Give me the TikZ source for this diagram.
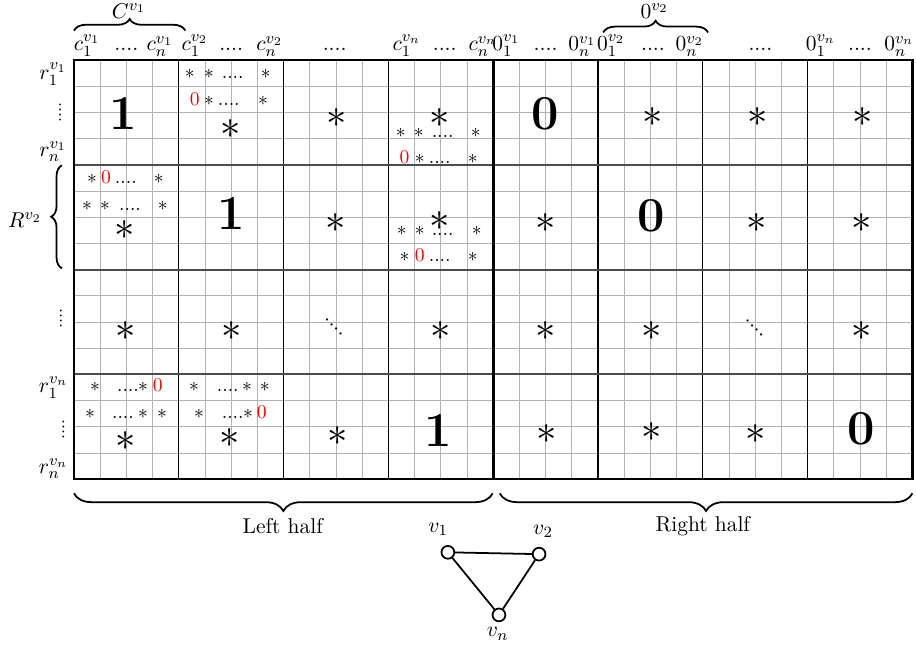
\documentclass[tikz,border=0pt]{standalone}
\usepackage{amsmath,amssymb}
\usepackage{xcolor}
\usepackage{tikz}
\usetikzlibrary{positioning, calc, decorations.pathreplacing}

\begin{document}
\begin{tikzpicture}[
    x=0.47cm, y=0.47cm,
    cellGrid/.style={draw=black!30, line width=0.5pt, step=0.47cm},
    blockLine/.style={draw=black, line width=0.6pt},
    bandLine/.style={draw=black!70, line width=1pt},
    halfLine/.style={draw=black, line width=1.6pt},
    outerBox/.style={draw=black, line width=1.3pt},
    labelFont/.style={font=\fontsize{10.95}{13.6}\selectfont},
    colLabel/.style={labelFont, anchor=base, inner sep=0pt},
    rowLabel/.style={labelFont, inner sep=0pt},
    bigOne/.style={font=\Huge\bfseries, inner sep=0pt},
    bigStar/.style={font=\huge, inner sep=0pt},
    bigDots/.style={font=\large, inner sep=0pt, rotate=-45},
    sideDots/.style={font=\small, inner sep=0pt, rotate=90},
    smallEntry/.style={anchor=base, inner sep=0pt},
    redZero/.style={anchor=base, inner sep=0pt, text=red},
    braceLine/.style={decorate, decoration={brace, amplitude=#1}, line width=0.9pt},
    braceLine/.default=6pt,
    vertexDot/.style={circle, draw, line width=0.9pt, minimum size=0.23cm, inner sep=0pt},
    graphEdge/.style={draw, line width=0.9pt}
]
\useasboundingbox (-2.824,-6.336) rectangle (32.137,18.29);

% Grid
\draw[cellGrid] (0,0) grid (32,16);
\foreach \x in {4,8,12,20,24,28} \draw[blockLine] (\x,0) -- (\x,16);
\foreach \y in {4,8,12} \draw[bandLine] (0,\y) -- (32,\y);
\draw[halfLine] (16,0) -- (16,16);
\draw[outerBox] (0,0) rectangle (32,16);

% Column labels
\node[colLabel] (c11) at (0.5,16.35) {$c_1^{v_1}$};
\node[colLabel] (cd1) at (2,16.35) {$....$};
\node[colLabel] (cn1) at (3.28,16.35) {$c_n^{v_1}$};
\node[colLabel] (c12) at (4.61,16.35) {$c_1^{v_2}$};
\node[colLabel] (cd2) at (6,16.35) {$....$};
\node[colLabel] (cn2) at (7.47,16.35) {$c_n^{v_2}$};
\node[colLabel] (cd3) at (9.95,16.35) {$....$};
\node[colLabel] (c1n) at (12.7,16.35) {$c_1^{v_n}$};
\node[colLabel] (cdn) at (14.15,16.35) {$....$};
\node[colLabel] (cnn) at (15.6,16.35) {$c_n^{v_n}$};
\node[colLabel] (z11) at (16.5,16.35) {$0_1^{v_1}$};
\node[colLabel] (zd1) at (18,16.35) {$....$};
\node[colLabel] (zn1) at (19.4,16.35) {$0_n^{v_1}$};
\node[colLabel] (z12) at (20.5,16.35) {$0_1^{v_2}$};
\node[colLabel] (zd2) at (22.1,16.35) {$....$};
\node[colLabel] (zn2) at (23.5,16.35) {$0_n^{v_2}$};
\node[colLabel] (zd3) at (26.2,16.35) {$....$};
\node[colLabel] (z1n) at (28.5,16.35) {$0_1^{v_n}$};
\node[colLabel] (zdn) at (30,16.35) {$....$};
\node[colLabel] (znn) at (31.5,16.35) {$0_n^{v_n}$};

% Top braces
\draw[braceLine=6pt] (0,17.12) -- (4.25,17.12);
\node[labelFont] (Cv1) at (2.1,17.88) {$C^{v_1}$};
\draw[braceLine=6pt] (20.2,17.05) -- (24.2,17.05);
\node[labelFont] (Zv2) at (22.16,17.88) {$0^{v_2}$};

% Row labels
\node[rowLabel] (r11) at (-0.8,15.45) {$r_1^{v_1}$};
\node[sideDots] (rd1) at (-0.53,14) {$....$};
\node[rowLabel] (rn1) at (-0.8,12.5) {$r_n^{v_1}$};
\draw[braceLine=5.5pt] (-0.46,8.05) -- (-0.46,11.98);
\node[labelFont] (Rv2) at (-1.87,9.88) {$R^{v_2}$};
\node[sideDots] (rd2) at (-0.5,6.15) {$....$};
\node[rowLabel] (r1n) at (-0.78,3.5) {$r_1^{v_n}$};
\node[sideDots] (rdn) at (-0.4,1.9) {$....$};
\node[rowLabel] (rnn) at (-0.78,0.4) {$r_n^{v_n}$};

% Block row 1
\node[bigOne] (b11) at (1.87,13.96) {1};
\node[bigStar] (b12) at (5.99,13.38) {$*$};
\node[bigStar] (b13) at (10.03,13.77) {$*$};
\node[bigStar] (b14) at (13.96,13.8) {$*$};
\node[bigOne] (b15) at (18,13.96) {0};
\node[bigStar] (b16) at (22.08,13.82) {$*$};
\node[bigStar] (b17) at (26.09,13.82) {$*$};
\node[bigStar] (b18) at (30.09,13.82) {$*$};

% Block row 2
\node[bigStar] (b21) at (1.95,9.52) {$*$};
\node[bigOne] (b22) at (5.99,10.13) {1};
\node[bigStar] (b23) at (10,9.79) {$*$};
\node[bigStar] (b24) at (13.96,9.87) {$*$};
\node[bigStar] (b25) at (18,9.79) {$*$};
\node[bigOne] (b26) at (22.04,10.06) {0};
\node[bigStar] (b27) at (26.05,9.79) {$*$};
\node[bigStar] (b28) at (30.05,9.79) {$*$};

% Block row 3
\node[bigStar] (b31) at (1.96,5.66) {$*$};
\node[bigStar] (b32) at (6,5.66) {$*$};
\node[bigDots] (b33) at (9.92,5.81) {$....$};
\node[bigStar] (b34) at (14,5.66) {$*$};
\node[bigStar] (b35) at (18,5.66) {$*$};
\node[bigStar] (b36) at (22.04,5.66) {$*$};
\node[bigDots] (b37) at (25.97,5.77) {$....$};
\node[bigStar] (b38) at (30.05,5.66) {$*$};

% Block row 4
\node[bigStar] (b41) at (1.96,1.45) {$*$};
\node[bigStar] (b42) at (5.95,1.57) {$*$};
\node[bigStar] (b43) at (10.07,1.64) {$*$};
\node[bigOne] (b44) at (13.9,1.84) {1};
\node[bigStar] (b45) at (18.04,1.72) {$*$};
\node[bigStar] (b46) at (22.04,1.8) {$*$};
\node[bigStar] (b47) at (26,1.72) {$*$};
\node[bigOne] (b48) at (30.05,1.91) {0};

% Entries of block (1,2)
\node[smallEntry] (a1) at (4.42,15.3) {$*$};
\node[smallEntry] (a2) at (5.15,15.3) {$*$};
\node[smallEntry] (a3) at (6.06,15.3) {$....$};
\node[smallEntry] (a4) at (7.32,15.3) {$*$};
\node[redZero] (a5) at (4.61,14.26) {$0$};
\node[smallEntry] (a6) at (5.15,14.26) {$*$};
\node[smallEntry] (a7) at (5.91,14.26) {$....$};
\node[smallEntry] (a8) at (7.21,14.26) {$*$};

% Entries of block (1,n)
\node[smallEntry] (e1) at (12.47,13.04) {$*$};
\node[smallEntry] (e2) at (13.16,13.04) {$*$};
\node[smallEntry] (e3) at (14.07,13.04) {$....$};
\node[smallEntry] (e4) at (15.33,13.04) {$*$};
\node[redZero] (e5) at (12.62,12.05) {$0$};
\node[smallEntry] (e6) at (13.2,12.05) {$*$};
\node[smallEntry] (e7) at (13.96,12.05) {$....$};
\node[smallEntry] (e8) at (15.22,12.05) {$*$};

% Entries of block (2,1)
\node[smallEntry] (f1) at (0.69,11.28) {$*$};
\node[redZero] (f2) at (1.22,11.28) {$0$};
\node[smallEntry] (f3) at (1.98,11.28) {$....$};
\node[smallEntry] (f4) at (3.24,11.28) {$*$};
\node[smallEntry] (f5) at (0.5,10.25) {$*$};
\node[smallEntry] (f6) at (1.18,10.25) {$*$};
\node[smallEntry] (f7) at (2.14,10.25) {$....$};
\node[smallEntry] (f8) at (3.39,10.25) {$*$};

% Entries of block (2,n)
\node[smallEntry] (g1) at (12.51,9.29) {$*$};
\node[smallEntry] (g2) at (13.2,9.29) {$*$};
\node[smallEntry] (g3) at (14.07,9.29) {$....$};
\node[smallEntry] (g4) at (15.37,9.29) {$*$};
\node[smallEntry] (g5) at (12.62,8.3) {$*$};
\node[redZero] (g6) at (13.2,8.3) {$0$};
\node[smallEntry] (g7) at (13.96,8.3) {$....$};
\node[smallEntry] (g8) at (15.22,8.3) {$*$};

% Entries of block (n,1)
\node[smallEntry] (h1) at (0.8,3.33) {$*$};
\node[smallEntry] (h2) at (2.06,3.33) {$....$};
\node[smallEntry] (h3) at (2.63,3.33) {$*$};
\node[redZero] (h4) at (3.2,3.33) {$0$};
\node[smallEntry] (h5) at (0.61,2.33) {$*$};
\node[smallEntry] (h6) at (1.87,2.33) {$....$};
\node[smallEntry] (h7) at (2.63,2.33) {$*$};
\node[smallEntry] (h8) at (3.36,2.33) {$*$};

% Entries of block (n,2)
\node[smallEntry] (k1) at (4.58,3.33) {$*$};
\node[smallEntry] (k2) at (5.87,3.33) {$....$};
\node[smallEntry] (k3) at (6.6,3.33) {$*$};
\node[smallEntry] (k4) at (7.28,3.33) {$*$};
\node[smallEntry] (k5) at (4.77,2.33) {$*$};
\node[smallEntry] (k6) at (6.06,2.33) {$....$};
\node[smallEntry] (k7) at (6.64,2.33) {$*$};
\node[redZero] (k8) at (7.17,2.33) {$0$};

% Halves
\draw[braceLine=9pt] (15.98,-0.54) -- (0,-0.54);
\node[labelFont] (leftHalf) at (7.97,-1.8) {Left half};
\draw[braceLine=9pt] (32,-0.54) -- (16.25,-0.54);
\node[labelFont] (rightHalf) at (24,-1.8) {Right half};

% Graph
\node[vertexDot] (v1) at (14.27,-2.79) {};
\node[vertexDot] (v2) at (17.75,-2.86) {};
\node[vertexDot] (vn) at (16.22,-5.18) {};
\draw[graphEdge] (v1) -- (v2);
\draw[graphEdge] (v2) -- (vn);
\draw[graphEdge] (vn) -- (v1);
\node[labelFont] (lv1) at (13.9,-1.91) {$v_1$};
\node[labelFont] (lv2) at (17.9,-1.99) {$v_2$};
\node[labelFont] (lvn) at (16.17,-5.9) {$v_n$};

\end{tikzpicture}
\end{document}
